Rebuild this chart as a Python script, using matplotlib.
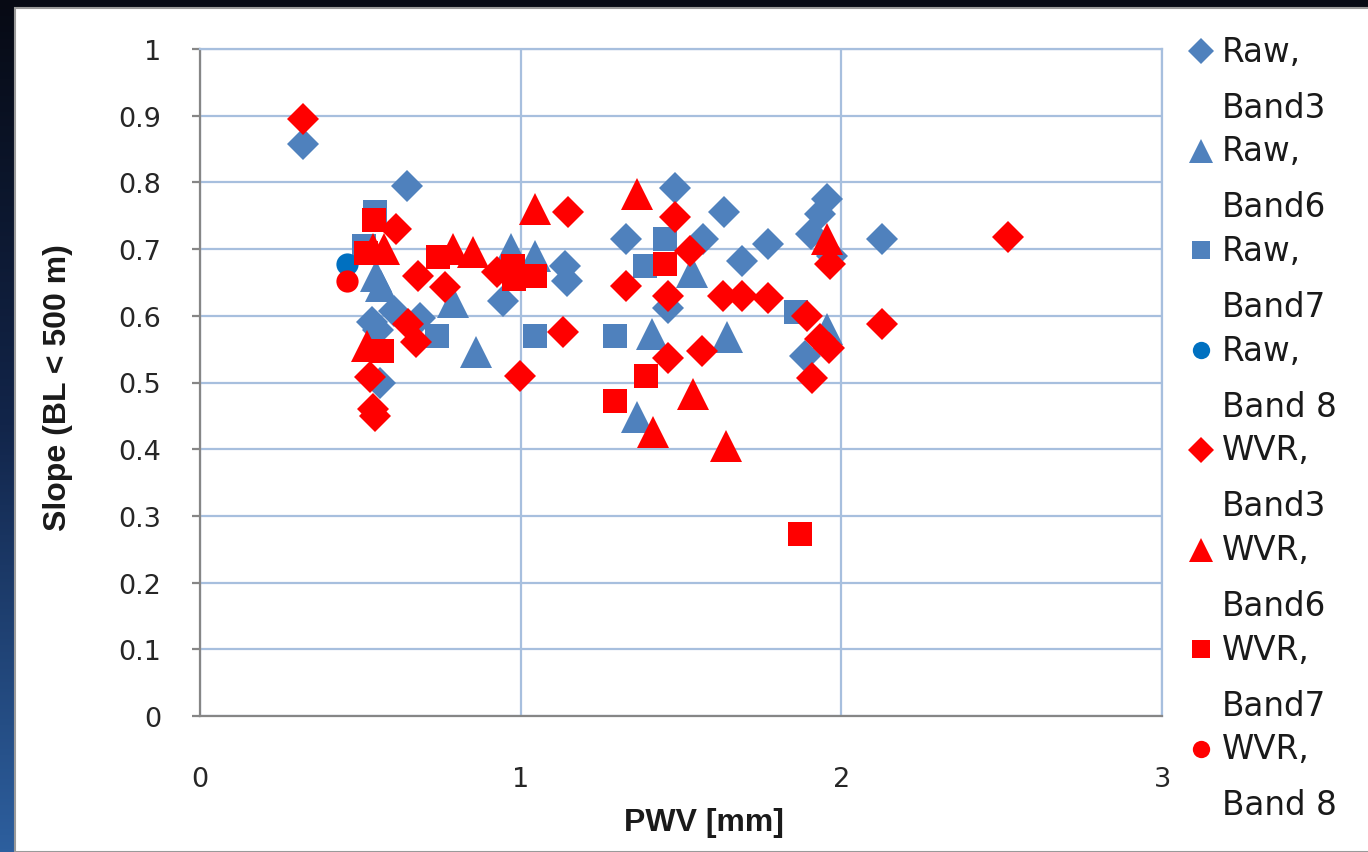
import numpy as np
import matplotlib
matplotlib.use("Agg")
import matplotlib.pyplot as plt
from matplotlib.patches import Rectangle
from matplotlib.colors import LinearSegmentedColormap

# PWV [mm] / slope pairs
raw_b3_x = [0.32, 0.645, 0.535, 0.555, 0.605, 0.685, 0.56, 0.945, 1.138, 1.145, 1.328,
            1.481, 1.634, 1.568, 1.69, 1.46, 1.771, 1.955, 1.935, 1.905, 2.127, 1.887, 1.97]
raw_b3_y = [0.858, 0.795, 0.59, 0.578, 0.607, 0.597, 0.50, 0.622, 0.675, 0.652, 0.715,
            0.792, 0.755, 0.715, 0.682, 0.612, 0.708, 0.775, 0.752, 0.722, 0.715, 0.54, 0.69]

raw_b6_x = [0.55, 0.565, 0.79, 0.86, 0.97, 1.045, 1.41, 1.534, 1.643, 1.362, 1.955]
raw_b6_y = [0.66, 0.645, 0.62, 0.545, 0.70, 0.69, 0.573, 0.665, 0.568, 0.448, 0.58]

raw_b7_x = [0.545, 0.51, 0.74, 1.045, 1.295, 1.45, 1.388, 1.86]
raw_b7_y = [0.755, 0.705, 0.57, 0.57, 0.57, 0.715, 0.675, 0.605]

raw_b8_x = [0.458]
raw_b8_y = [0.678]

wvr_b3_x = [0.32, 0.61, 0.68, 0.765, 0.65, 0.675, 0.53, 0.54, 0.546, 0.925, 1.148, 1.133,
            0.998, 1.481, 1.528, 1.328, 1.46, 1.631, 1.69, 1.77, 1.46, 1.565, 1.965, 1.893,
            1.935, 1.96, 1.91, 2.127, 2.52]
wvr_b3_y = [0.895, 0.73, 0.66, 0.643, 0.588, 0.56, 0.508, 0.46, 0.45, 0.665, 0.755, 0.576,
            0.51, 0.748, 0.697, 0.645, 0.63, 0.63, 0.63, 0.627, 0.537, 0.547, 0.678, 0.60,
            0.565, 0.552, 0.507, 0.588, 0.718]

wvr_b6_x = [0.54, 0.575, 0.52, 0.79, 0.85, 1.045, 1.362, 1.537, 1.413, 1.64, 1.955]
wvr_b6_y = [0.70, 0.70, 0.555, 0.70, 0.695, 0.76, 0.783, 0.483, 0.426, 0.405, 0.715]

wvr_b7_x = [0.543, 0.518, 0.567, 0.742, 0.977, 0.98, 1.045, 1.45, 1.39, 1.294, 1.871]
wvr_b7_y = [0.744, 0.694, 0.547, 0.688, 0.675, 0.655, 0.66, 0.678, 0.51, 0.472, 0.273]

wvr_b8_x = [0.458]
wvr_b8_y = [0.652]

blue = "#4F81BD"
blue2 = "#0070C0"
red = "#FF0000"
gridc = "#A7BFDE"

series = [
    (raw_b3_x, raw_b3_y, "D", 16.5, blue, "Raw,", "Band3"),
    (raw_b6_x, raw_b6_y, "^", 23, blue, "Raw,", "Band6"),
    (raw_b7_x, raw_b7_y, "s", 17, blue, "Raw,", "Band7"),
    (raw_b8_x, raw_b8_y, "o", 16, blue2, "Raw,", "Band 8"),
    (wvr_b3_x, wvr_b3_y, "D", 16.5, red, "WVR,", "Band3"),
    (wvr_b6_x, wvr_b6_y, "^", 23, red, "WVR,", "Band6"),
    (wvr_b7_x, wvr_b7_y, "s", 17, red, "WVR,", "Band7"),
    (wvr_b8_x, wvr_b8_y, "o", 16, red, "WVR,", "Band 8"),
]

W, H = 1368, 853
fig = plt.figure(figsize=(W / 100, H / 100), dpi=100)

# slide background + white chart panel
bg = fig.add_axes([0, 0, 1, 1])
cmap = LinearSegmentedColormap.from_list("slide", ["#070a14", "#12254a", "#2d5f9e"])
bg.imshow(np.linspace(0, 1, 256).reshape(-1, 1), aspect="auto", cmap=cmap,
          extent=[0, 1, 0, 1], origin="upper")
bg.add_patch(Rectangle((15 / W, 0), 1, (H - 9) / H, facecolor="white",
                       edgecolor="#9a9a9a", linewidth=1.5))
bg.set_xlim(0, 1)
bg.set_ylim(0, 1)
bg.axis("off")

ax = fig.add_axes([200 / W, 1 - 717 / H, 962 / W, 667 / H])
ax.set_facecolor("white")

for xs, ys, mk, ms, col, l1, l2 in series:
    ax.plot(xs, ys, linestyle="none", marker=mk, markersize=ms, color=col,
            markeredgewidth=0, zorder=3, clip_on=False)

ax.set_xlim(0, 3)
ax.set_ylim(0, 1)
ax.set_xticks([0, 1, 2, 3])
ax.set_xticklabels(["0", "1", "2", "3"])
yt = np.round(np.arange(0, 1.01, 0.1), 1)
ax.set_yticks(yt)
ax.set_yticklabels(["0" if v == 0 else ("1" if v == 1 else f"{v:.1f}") for v in yt])
ax.grid(True, color=gridc, linewidth=1.6, zorder=0)
ax.set_axisbelow(True)

for s in ["top", "right"]:
    ax.spines[s].set_color(gridc)
    ax.spines[s].set_linewidth(1.6)
for s in ["left", "bottom"]:
    ax.spines[s].set_color("#868686")
    ax.spines[s].set_linewidth(1.6)

ax.tick_params(axis="y", direction="out", length=6, width=1.6, color="#868686",
               pad=22, labelsize=19.5, labelcolor="#262626")
ax.tick_params(axis="x", direction="out", length=0, pad=36, labelsize=19.5,
               labelcolor="#262626")

fig.text(704 / W, 1 - 823 / H, "PWV [mm]", ha="center", va="center",
         fontsize=23, fontweight="bold", family="Liberation Sans", color="#1a1a1a")
fig.text(58 / W, 1 - 388 / H, "Slope (BL < 500 m)", ha="center", va="center",
         rotation=90, fontsize=23, fontweight="bold", family="Liberation Sans",
         color="#1a1a1a")

# legend drawn by hand: marker next to first line, label on two lines
step = 99.7
for i, (xs, ys, mk, ms, col, l1, l2) in enumerate(series):
    yline = 52 + i * step
    lms = ms * 0.78
    bg.plot([1201 / W], [1 - yline / H], marker=mk, markersize=lms, color=col,
            markeredgewidth=0, linestyle="none", transform=fig.transFigure, clip_on=False)
    fig.text(1222 / W, 1 - yline / H, l1, ha="left", va="center", fontsize=23.5,
             color="#1a1a1a")
    fig.text(1222 / W, 1 - (yline + 56) / H, l2, ha="left", va="center", fontsize=23.5,
             color="#1a1a1a")

fig.savefig("out.png", dpi=100)
